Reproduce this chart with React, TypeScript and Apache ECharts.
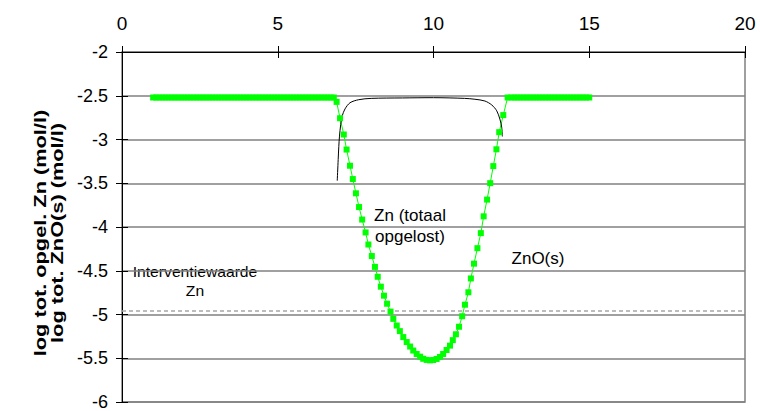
import React, { useEffect, useRef } from 'react';
import * as echarts from 'echarts';

const FONT = 'Liberation Sans, Arial, Helvetica, sans-serif';

const xTickMin = 0;
const xTickMax = 20;
const xTickStep = 5;
const yTickMin = -6;
const yTickMax = -2;
const yTickStep = 0.5;

// log tot. opgeloste Zn (green squares)
const znDissolved: [number, number][] = [
  [1.0, -2.52], [1.1, -2.52], [1.2, -2.52], [1.3, -2.52], [1.4, -2.52], [1.5, -2.52], [1.6, -2.52], [1.7, -2.52], [1.8, -2.52], [1.9, -2.52],
  [2.0, -2.52], [2.1, -2.52], [2.2, -2.52], [2.3, -2.52], [2.4, -2.52], [2.5, -2.52], [2.6, -2.52], [2.7, -2.52], [2.8, -2.52], [2.9, -2.52],
  [3.0, -2.52], [3.1, -2.52], [3.2, -2.52], [3.3, -2.52], [3.4, -2.52], [3.5, -2.52], [3.6, -2.52], [3.7, -2.52], [3.8, -2.52], [3.9, -2.52],
  [4.0, -2.52], [4.1, -2.52], [4.2, -2.52], [4.3, -2.52], [4.4, -2.52], [4.5, -2.52], [4.6, -2.52], [4.7, -2.52], [4.8, -2.52], [4.9, -2.52],
  [5.0, -2.52], [5.1, -2.52], [5.2, -2.52], [5.3, -2.52], [5.4, -2.52], [5.5, -2.52], [5.6, -2.52], [5.7, -2.52], [5.8, -2.52], [5.9, -2.52],
  [6.0, -2.52], [6.1, -2.52], [6.2, -2.52], [6.3, -2.52], [6.4, -2.52], [6.5, -2.52], [6.6, -2.52], [6.7, -2.52], [6.8, -2.52],
  [6.89, -2.57], [7.0, -2.757], [7.12, -2.943], [7.21, -3.115], [7.32, -3.3], [7.41, -3.452], [7.51, -3.615], [7.61, -3.772],
  [7.71, -3.915], [7.82, -4.062], [7.91, -4.2], [8.02, -4.332], [8.12, -4.456], [8.21, -4.569], [8.31, -4.682], [8.41, -4.785],
  [8.51, -4.877], [8.62, -4.967], [8.71, -5.05], [8.82, -5.126], [8.92, -5.19], [9.03, -5.258], [9.14, -5.315], [9.25, -5.366],
  [9.35, -5.412], [9.46, -5.451], [9.57, -5.482], [9.67, -5.506], [9.78, -5.519], [9.89, -5.524], [9.99, -5.52], [10.1, -5.508],
  [10.21, -5.485], [10.31, -5.451], [10.42, -5.406], [10.53, -5.356], [10.62, -5.293], [10.72, -5.226], [10.82, -5.14], [10.92, -5.02],
  [11.01, -4.888], [11.12, -4.746], [11.2, -4.588], [11.3, -4.419], [11.41, -4.242], [11.52, -4.07], [11.61, -3.878], [11.72, -3.687],
  [11.82, -3.499], [11.92, -3.304], [12.02, -3.112], [12.11, -2.916], [12.24, -2.721], [12.38, -2.52],
  [12.5, -2.52], [12.6, -2.52], [12.7, -2.52], [12.8, -2.52], [12.9, -2.52], [13.0, -2.52], [13.1, -2.52], [13.2, -2.52], [13.3, -2.52],
  [13.4, -2.52], [13.5, -2.52], [13.6, -2.52], [13.7, -2.52], [13.8, -2.52], [13.9, -2.52], [14.0, -2.52], [14.1, -2.52], [14.2, -2.52],
  [14.3, -2.52], [14.4, -2.52], [14.5, -2.52], [14.6, -2.52], [14.7, -2.52], [14.8, -2.52], [14.9, -2.52], [15.0, -2.52],
];

// log tot. ZnO(s) (black line)
const znOSolid: [number, number][] = [
  [6.91, -3.47], [6.94, -3.23], [6.96, -3.08], [6.98, -2.97], [7.02, -2.83], [7.07, -2.73], [7.16, -2.65], [7.32, -2.58],
  [7.6, -2.545], [8.0, -2.53], [9.0, -2.525], [10.0, -2.522], [11.0, -2.53], [11.33, -2.54], [11.65, -2.56], [11.87, -2.605],
  [12.03, -2.672], [12.13, -2.766], [12.19, -2.86], [12.21, -2.966],
];

// Interventiewaarde Zn (dashed)
const interventionLevel: [number, number][] = [
  [0, -4.96], [20, -4.96],
];

const labels = {
  yTitle: 'log tot. opgel. Zn (mol/l)\nlog tot. ZnO(s) (mol/l)',
  intervention: 'Interventiewaarde\nZn',
  dissolved: 'Zn (totaal\nopgelost)',
  solid: 'ZnO(s)',
};

export default function App() {
  const ref = useRef<HTMLDivElement>(null);
  useEffect(() => {
    const chart = echarts.init(ref.current!, null, { renderer: 'svg' });
    const axisCommonX = {
      type: 'value' as const,
      position: 'top' as const,
      min: xTickMin,
      max: xTickMax,
      interval: xTickStep,
      splitLine: { show: false },
    };
    const axisCommonY = {
      type: 'value' as const,
      position: 'left' as const,
      min: yTickMin,
      max: yTickMax,
      interval: yTickStep,
    };
    chart.setOption({
      animation: false,
      backgroundColor: '#ffffff',
      grid: {
        left: 122,
        top: 52,
        right: 15,
        bottom: 4,
        show: true,
        borderColor: '#808080',
        borderWidth: 1.5,
        containLabel: false,
      },
      xAxis: [
        {
          ...axisCommonX,
          axisLine: { show: true, lineStyle: { color: '#000', width: 1 } },
          axisTick: { show: true, length: 6, lineStyle: { color: '#000', width: 1 } },
          axisLabel: { show: true, color: '#000', fontSize: 19, fontFamily: FONT, margin: 19 },
        },
        {
          ...axisCommonX,
          axisLine: { show: false },
          axisTick: { show: true, inside: true, length: 6, lineStyle: { color: '#000', width: 1 } },
          axisLabel: { show: false },
        },
      ],
      yAxis: [
        {
          ...axisCommonY,
          axisLine: { show: true, lineStyle: { color: '#000', width: 1 } },
          axisTick: { show: true, length: 6, lineStyle: { color: '#000', width: 1 } },
          axisLabel: { show: true, color: '#000', fontSize: 18, fontFamily: FONT, margin: 14 },
          splitLine: { show: true, lineStyle: { color: '#808080', width: 1.5 } },
        },
        {
          ...axisCommonY,
          axisLine: { show: false },
          axisTick: { show: true, inside: true, length: 6, lineStyle: { color: '#000', width: 1 } },
          axisLabel: { show: false },
          splitLine: { show: false },
        },
      ],
      series: [
        {
          type: 'line',
          data: interventionLevel,
          symbol: 'none',
          silent: true,
          lineStyle: { color: '#a6a6a6', width: 1.5, type: [4, 3] },
        },
        {
          type: 'line',
          data: znDissolved,
          symbol: 'rect',
          symbolSize: 6,
          itemStyle: { color: '#00ff00' },
          lineStyle: { color: '#00ff00', width: 1 },
        },
        {
          type: 'line',
          data: znOSolid,
          symbol: 'none',
          smooth: 0.3,
          lineStyle: { color: '#000', width: 1 },
        },
      ],
      graphic: [
        {
          type: 'text',
          x: 48,
          y: 233,
          rotation: Math.PI / 2,
          scaleX: 1.28,
          style: {
            text: labels.yTitle,
            font: `bold 17px ${FONT}`,
            fill: '#000',
            align: 'center',
            verticalAlign: 'middle',
            lineHeight: 17,
          },
        },
        {
          type: 'text',
          x: 195,
          y: 282,
          scaleX: 1.12,
          style: {
            text: labels.intervention,
            font: `14px ${FONT}`,
            fill: '#000',
            align: 'center',
            verticalAlign: 'middle',
            lineHeight: 19,
          },
        },
        {
          type: 'text',
          x: 410,
          y: 226,
          style: {
            text: labels.dissolved,
            font: `17px ${FONT}`,
            fill: '#000',
            align: 'center',
            verticalAlign: 'middle',
            lineHeight: 21,
          },
        },
        {
          type: 'text',
          x: 538,
          y: 258,
          style: {
            text: labels.solid,
            font: `17px ${FONT}`,
            fill: '#000',
            align: 'center',
            verticalAlign: 'middle',
          },
        },
      ],
    });
    return () => chart.dispose();
  }, []);
  return (
    <div
      ref={ref}
      style={{ position: 'fixed', left: 0, top: 0, width: 760, height: 411, background: '#fff' }}
    />
  );
}
